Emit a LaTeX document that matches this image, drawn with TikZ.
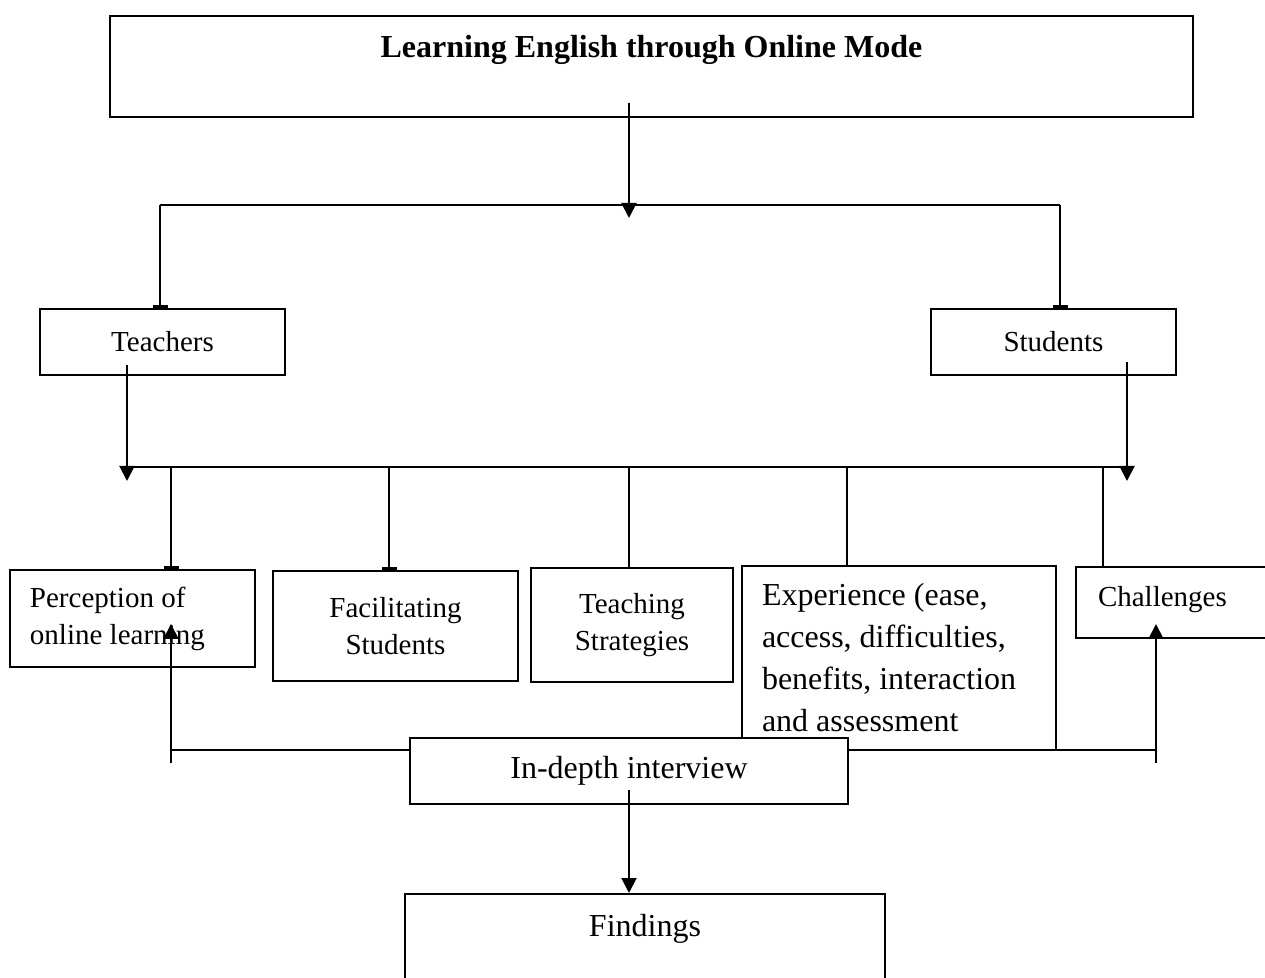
\documentclass[tikz,border=0pt]{standalone}
\usepackage{fontspec}
\setmainfont{Liberation Serif}
\usetikzlibrary{positioning,arrows.meta}

\begin{document}
\begin{tikzpicture}[x=0.5pt,y=-0.5pt,
    box/.style={draw, line width=1pt, inner sep=0pt, font=\fontsize{14.5}{18.5}\selectfont},
    arrowline/.style={line width=1pt, -{Triangle[width=7.5pt,length=7.5pt]}},
    barline/.style={line width=1pt, -{Rectangle[width=7.5pt,length=1.5pt]}},
    plainline/.style={line width=1pt}]

    % Page
    \path[use as bounding box, fill=white] (0,0) rectangle (1265,978);

    % Title box
    \node[box, anchor=north, minimum width=541.5pt, text height=21pt, text depth=29.5pt,
          font=\bfseries\fontsize{16}{19}\selectfont] (title) at (651.5,15) {Learning English through Online Mode};

    % The two groups
    \node[box, minimum width=122.5pt, minimum height=33pt] (teachers) at (162.5,342) {Teachers};
    \node[box, minimum width=122.5pt, minimum height=33pt] (students) at (1053.5,342) {Students};

    % The themes
    \node[box, minimum height=48.5pt, text width=102.5pt, inner xsep=10pt, align=flush left] (perception) at (132.5,618.5) {Perception of\\ online learning};
    \node[box, minimum width=122.5pt, minimum height=55pt, align=center] (facilitating) at (395.5,626) {Facilitating\\ Students};
    \node[box, minimum width=101pt, minimum height=57pt, align=center] (teaching) at (632,625) {Teaching\\ Strategies};
    \node[box, minimum height=92pt, text width=137pt, inner xsep=10pt, align=flush left,
          font=\fontsize{16}{21}\selectfont] (experience) at (899,658) {Experience (ease,\\ access, difficulties,\\ benefits, interaction\\ and assessment};
    \node[box, anchor=north west, text width=110pt, inner xsep=11pt, align=flush left,
          text height=20pt, text depth=15.5pt] (challenges) at (1075,566) {Challenges};

    % Title down to the first split
    \coordinate (titlesrc) at (629,103);
    \coordinate (splitA) at (629,218);
    \coordinate (splitAl) at (160,205);
    \coordinate (splitAr) at (1060,205);
    \draw[arrowline] (titlesrc) -- (splitA);
    \draw[plainline] (splitAl) -- (splitAr);
    \draw[barline] (splitAl) -- (splitAl |- teachers.north);
    \draw[barline] (splitAr) -- (splitAr |- students.north);

    % Both groups down to the second split
    \coordinate (teachersrc) at (127,365);
    \coordinate (studentsrc) at (1127,362);
    \coordinate (splitBl) at (127,467);
    \coordinate (splitBr) at (1127,467);
    \draw[plainline] (splitBl) -- (splitBr);
    \draw[arrowline] (teachersrc) -- ([yshift=-7pt]splitBl);
    \draw[arrowline] (studentsrc) -- ([yshift=-7pt]splitBr);

    % Second split down to the themes
    \foreach \x/\n/\s in {171/perception/barline, 389/facilitating/barline, 629/teaching/plainline,
                          847/experience/plainline, 1103/challenges/plainline}
      \draw[\s] (\x,467) -- (\x,467 |- \n.north);

    % Interview back to the themes
    \coordinate (backl) at (171,763);
    \coordinate (backr) at (1156,763);
    \draw[plainline] (171,750) -- (1156,750);
    \draw[arrowline] (backl) -- (171,624);
    \draw[arrowline] (backr) -- (1156,624);

    \node[box, fill=white, minimum width=219pt, minimum height=33pt,
          font=\fontsize{16}{19}\selectfont] (interview) at (629,771) {In-depth interview};

    % Findings
    \node[box, anchor=north, minimum width=240pt, text height=21pt, text depth=40pt,
          font=\fontsize{16}{19}\selectfont] (findings) at (645,893) {Findings};
    \coordinate (interviewsrc) at (629,790);
    \draw[arrowline] (interviewsrc) -- (interviewsrc |- findings.north);

\end{tikzpicture}
\end{document}
